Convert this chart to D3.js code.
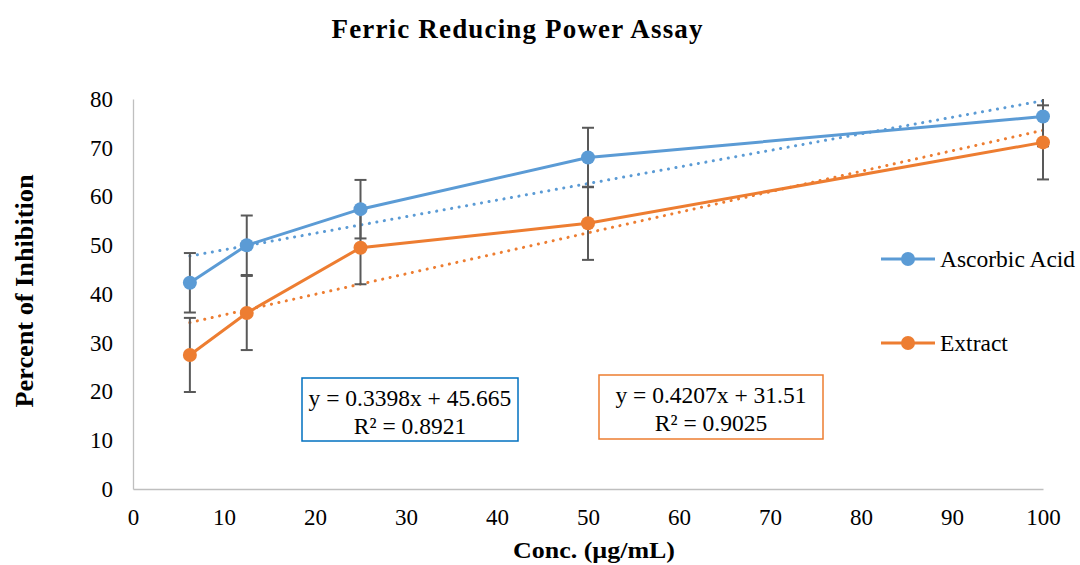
<!DOCTYPE html>
<html>
<head>
<script src="https://cdn.jsdelivr.net/npm/d3@7"></script>
<style>
  html, body { margin: 0; padding: 0; background: #fff; }
  svg { display: block; font-family: "Liberation Serif", "Times New Roman", serif; }
  .axis text { font-size: 23px; font-family: "Liberation Serif", serif; fill: #000; }
</style>
</head>
<body>
<script>
"use strict";

// data
const CONC = [6.25, 12.5, 25, 50, 100];
const ASCORBIC = [42.3, 50.0, 57.4, 68.0, 76.4];
const ASCORBIC_ERR = [6.1, 6.1, 6.0, 6.1, 6.1];
const EXTRACT = [27.5, 36.1, 49.5, 54.5, 71.1];
const EXTRACT_ERR = [7.6, 7.6, 7.5, 7.5, 7.6];
const X_TICKS = [0, 10, 20, 30, 40, 50, 60, 70, 80, 90, 100];
const Y_TICKS = [0, 10, 20, 30, 40, 50, 60, 70, 80];
const SERIES_NAMES = ["Ascorbic Acid", "Extract"];
const TREND = [[0.3398, 45.665, 0.8921], [0.4207, 31.51, 0.9025]];

const WIDTH = 1080, HEIGHT = 565;
const LEFT = 133, RIGHT = 1043, TOP = 99, BOTTOM = 489;
const COLORS = ["#5B9BD5", "#ED7D31"];

const svg = d3.select("body").append("svg")
  .attr("width", WIDTH).attr("height", HEIGHT);

const x = d3.scaleLinear().domain([0, 100]).range([LEFT, RIGHT]);
const y = d3.scaleLinear().domain([0, 80]).range([BOTTOM, TOP]);

// title
svg.append("text")
  .attr("x", 517).attr("y", 38)
  .attr("text-anchor", "middle")
  .attr("font-size", 27).attr("font-weight", "bold")
  .attr("textLength", 371).attr("lengthAdjust", "spacing")
  .text("Ferric Reducing Power Assay");

// axes
const xAxis = svg.append("g")
  .attr("class", "axis")
  .attr("transform", "translate(0," + BOTTOM + ")")
  .call(d3.axisBottom(x).tickValues(X_TICKS).tickSize(0).tickPadding(20));
const yAxis = svg.append("g")
  .attr("class", "axis")
  .attr("transform", "translate(" + LEFT + ",0)")
  .call(d3.axisLeft(y).tickValues(Y_TICKS).tickSize(0).tickPadding(20));
[xAxis, yAxis].forEach(function(g) {
  g.attr("font-size", null).attr("font-family", null);
  g.select(".domain").attr("stroke", "#bfbfbf").attr("stroke-width", 1.3);
});

// axis titles
svg.append("text")
  .attr("x", 594).attr("y", 558)
  .attr("text-anchor", "middle")
  .attr("font-size", 24).attr("font-weight", "bold")
  .attr("textLength", 162).attr("lengthAdjust", "spacingAndGlyphs")
  .text("Conc. (µg/mL)");
svg.append("text")
  .attr("transform", "translate(33," + 291 + ") rotate(-90)")
  .attr("text-anchor", "middle")
  .attr("font-size", 25).attr("font-weight", "bold")
  .attr("textLength", 233).attr("lengthAdjust", "spacingAndGlyphs")
  .text("Percent of Inhibition");

svg.append("clipPath").attr("id", "plot-clip")
  .append("rect").attr("x", LEFT).attr("y", TOP)
  .attr("width", RIGHT - LEFT + 20).attr("height", BOTTOM - TOP);

const plot = svg.append("g");

const seriesData = [
  CONC.map(function(c, i) { return { x: c, y: ASCORBIC[i], e: ASCORBIC_ERR[i] }; }),
  CONC.map(function(c, i) { return { x: c, y: EXTRACT[i], e: EXTRACT_ERR[i] }; })
];

// trendlines (dotted)
seriesData.forEach(function(data, s) {
  const m = TREND[s][0], b = TREND[s][1];
  const x0 = CONC[0], x1 = CONC[CONC.length - 1];
  plot.append("line")
    .attr("x1", x(x0)).attr("y1", y(m * x0 + b))
    .attr("x2", x(x1)).attr("y2", y(m * x1 + b))
    .attr("stroke", COLORS[s]).attr("stroke-width", 3)
    .attr("stroke-dasharray", "0.1 7.5").attr("stroke-linecap", "round");
});

// error bars
const errG = plot.append("g").attr("clip-path", "url(#plot-clip)");
seriesData.forEach(function(data) {
  data.forEach(function(d) {
    const px = x(d.x);
    errG.append("line")
      .attr("x1", px).attr("x2", px)
      .attr("y1", y(d.y - d.e)).attr("y2", y(d.y + d.e))
      .attr("stroke", "#595959").attr("stroke-width", 2);
    [d.y - d.e, d.y + d.e].forEach(function(v) {
      errG.append("line")
        .attr("x1", px - 6).attr("x2", px + 6)
        .attr("y1", y(v)).attr("y2", y(v))
        .attr("stroke", "#595959").attr("stroke-width", 2);
    });
  });
});

// series lines and markers
const line = d3.line().x(function(d) { return x(d.x); }).y(function(d) { return y(d.y); });
seriesData.forEach(function(data, s) {
  plot.append("path")
    .datum(data)
    .attr("d", line)
    .attr("fill", "none")
    .attr("stroke", COLORS[s]).attr("stroke-width", 3);
  plot.selectAll(".m" + s)
    .data(data).enter()
    .append("circle")
    .attr("cx", function(d) { return x(d.x); })
    .attr("cy", function(d) { return y(d.y); })
    .attr("r", 7)
    .attr("fill", COLORS[s]);
});

// trend equation boxes
const boxes = [
  { x: 302, y: 378, w: 216, h: 63 },
  { x: 599, y: 375, w: 224, h: 64 }
];
boxes.forEach(function(bx, s) {
  const g = svg.append("g");
  g.append("rect")
    .attr("x", bx.x).attr("y", bx.y).attr("width", bx.w).attr("height", bx.h)
    .attr("fill", "#fff").attr("stroke", s === 0 ? "#0070C0" : COLORS[1]).attr("stroke-width", 1.5);
  const cx = bx.x + bx.w / 2;
  g.append("text").attr("x", cx).attr("y", bx.y + 28)
    .attr("text-anchor", "middle").attr("font-size", 23.5)
    .text("y = " + TREND[s][0] + "x + " + TREND[s][1]);
  g.append("text").attr("x", cx).attr("y", bx.y + 56)
    .attr("text-anchor", "middle").attr("font-size", 23.5)
    .text("R² = " + TREND[s][2]);
});

// legend
const legendY = [259, 343];
SERIES_NAMES.forEach(function(name, s) {
  const g = svg.append("g").attr("transform", "translate(881," + legendY[s] + ")");
  g.append("line").attr("x1", 0).attr("x2", 54).attr("y1", 0).attr("y2", 0)
    .attr("stroke", COLORS[s]).attr("stroke-width", 3);
  g.append("circle").attr("cx", 27).attr("cy", 0).attr("r", 7).attr("fill", COLORS[s]);
  g.append("text").attr("x", 59).attr("y", 8).attr("font-size", 23.5).text(name);
});
</script>
</body>
</html>
